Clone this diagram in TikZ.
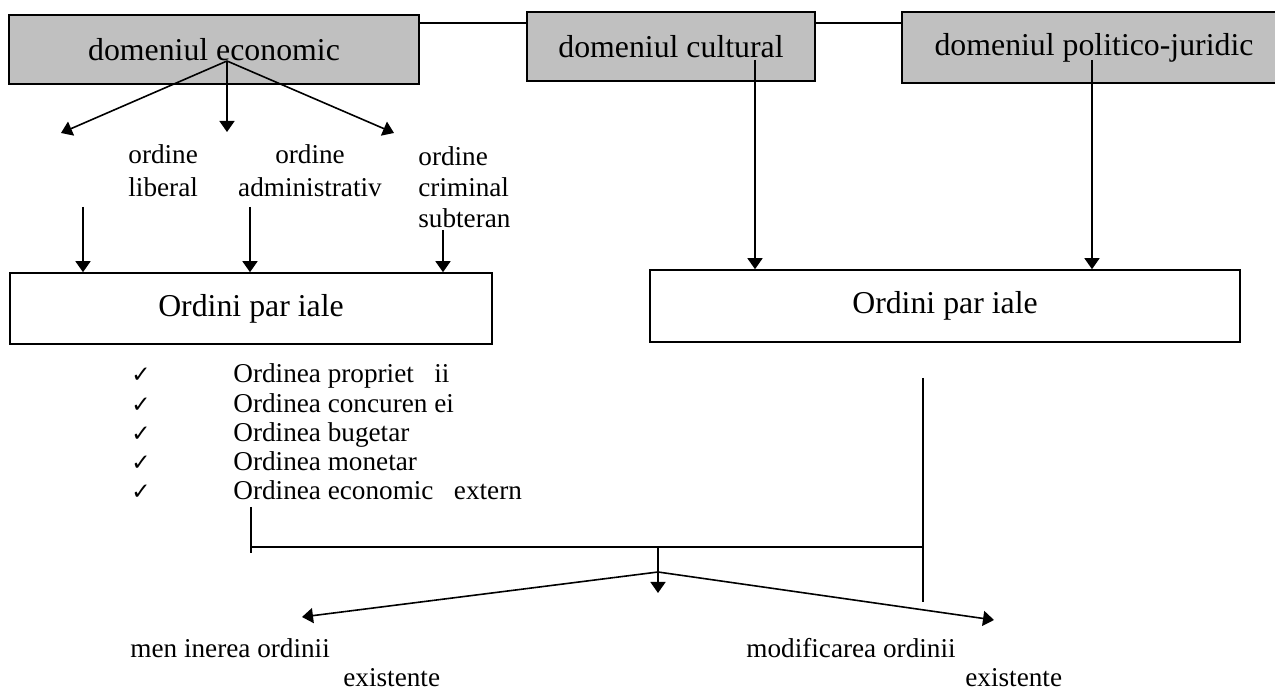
\documentclass[tikz,border=0pt]{standalone}
\usepackage{fontspec}
\setmainfont{Liberation Serif}
\newfontfamily\dejavu{DejaVu Sans}
\usetikzlibrary {positioning, calc, arrows.meta}

\definecolor{domgray}{HTML}{C0C0C0}
\tikzset{
    ln/.style={line width=0.8pt},
    arr/.style={line width=0.8pt, -{Triangle[length=5.5pt,width=7.5pt]}},
    dombox/.style={draw, line width=0.8pt, fill=domgray, inner sep=0pt, font=\fontsize{15.9}{18}\selectfont},
    ordbox/.style={draw, line width=0.8pt, inner sep=0pt, font=\fontsize{15.9}{18}\selectfont},
    lbl/.style={inner sep=0pt, font=\fontsize{13.6}{16.5}\selectfont},
}

\begin{document}
\begin{tikzpicture}[x=0.5pt, y=-0.5pt]
        \useasboundingbox (0,0) rectangle (1275,689);

        % domains
        \node[dombox, minimum width=205pt, minimum height=34.5pt] (eco) at (214,49.5) {domeniul economic};
        \node[dombox, minimum width=144pt, minimum height=34.5pt] (cult) at (671,46.5) {domeniul cultural};
        \node[dombox, minimum width=192pt, minimum height=35.5pt] (pol) at (1094,47.5) {domeniul politico-juridic};

        \coordinate (top) at (0,23);
        \draw[ln] (eco.east |- top) -- (cult.west |- top);
        \draw[ln] (cult.east |- top) -- (pol.west |- top);

        % economic orders
        \coordinate (eo) at (227,61);
        \coordinate (e1) at (61,133);
        \coordinate (e2) at (227,132);
        \coordinate (e3) at (394,133);
        \draw[arr] (eo) -- (e1);
        \draw[arr] (eo) -- (e2);
        \draw[arr] (eo) -- (e3);

        \node[lbl, anchor=base west, align=left] (lib) at (128,197) {ordine\\liberal};
        \node[lbl, anchor=base, align=center] (adm) at (310,197) {ordine\\administrativ};
        \node[lbl, anchor=base west, align=left, font=\fontsize{13.6}{15.5}\selectfont] (crim) at (418,228) {ordine\\criminal\\subteran};

        % partial orders
        \node[ordbox, minimum width=241pt, minimum height=35.5pt] (ordL) at (251,308.5) {Ordini par iale\hspace{11pt}};
        \node[ordbox, minimum width=295pt, minimum height=36pt] (ordR) at (945,306) {Ordini par iale\hspace{11pt}};

        \coordinate (a1) at (83,207);
        \coordinate (a2) at (250,207);
        \coordinate (a3) at (443,230);
        \draw[arr] (a1) -- (a1 |- ordL.north);
        \draw[arr] (a2) -- (a2 |- ordL.north);
        \draw[arr] (a3) -- (a3 |- ordL.north);

        \coordinate (c1) at (755,60);
        \coordinate (p1) at (1092,60);
        \draw[arr] (c1) -- (c1 |- ordR.north);
        \draw[arr] (p1) -- (p1 |- ordR.north);

        % list
        \foreach \t [count=\i] in {Ordinea propriet\ \ \ ii, Ordinea concuren ei, Ordinea bugetar, Ordinea monetar, Ordinea economic\ \ \ extern}
        {
            \node[inner sep=0pt, anchor=base west, font=\dejavu\fontsize{11.5}{12}\selectfont] (ck\i) at (131,{383+(\i-1)*29.2}) {✓};
            \node[lbl, anchor=base west] (it\i) at (233,{383+(\i-1)*29.2}) {\t};
        }

        % joining lines
        \coordinate (t1) at (251,507);
        \coordinate (t2) at (251,553);
        \coordinate (h1) at (251,547);
        \coordinate (r1) at (923,378);
        \coordinate (r2) at (923,602);
        \draw[ln] (t1) -- (t2);
        \draw[ln] (r1) -- (r2);
        \draw[ln] (h1) -- (h1 -| r1);

        \coordinate (m0) at (658,547);
        \coordinate (m1) at (658,593);
        \coordinate (mj) at (658,572);
        \coordinate (f1) at (302,617);
        \coordinate (f2) at (994,620);
        \draw[arr] (m0) -- (m1);
        \draw[arr] (mj) -- (f1);
        \draw[arr] (mj) -- (f2);

        \node[lbl, anchor=base west] (men) at (130,657) {men inerea ordinii};
        \node[lbl, anchor=base west] (ex1) at (343,686) {existente};
        \node[lbl, anchor=base west] (mod) at (746,657) {modificarea ordinii};
        \node[lbl, anchor=base west] (ex2) at (965,686) {existente};
\end{tikzpicture}
\end{document}
